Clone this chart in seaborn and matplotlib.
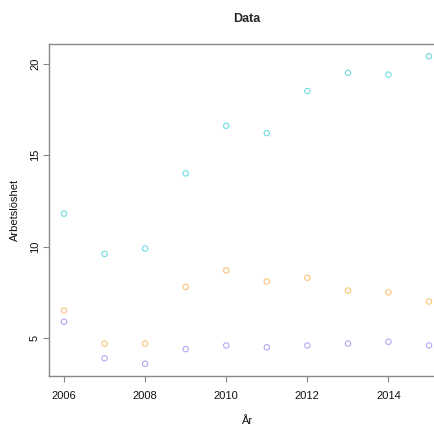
import matplotlib
matplotlib.use("Agg")
import matplotlib.pyplot as plt
import pandas as pd
import seaborn as sns

years = list(range(2006, 2016))
serie_cyan = [11.8, 9.6, 9.9, 14.0, 16.6, 16.2, 18.5, 19.5, 19.4, 20.4]
serie_orange = [6.5, 4.7, 4.7, 7.8, 8.7, 8.1, 8.3, 7.6, 7.5, 7.0]
serie_purple = [5.9, 3.9, 3.6, 4.4, 4.6, 4.5, 4.6, 4.7, 4.8, 4.6]
series_names = ["A", "B", "C"]
colors = ["#72dbe3", "#f9c476", "#b6a6f2"]
x_ticks = [2006, 2008, 2010, 2012, 2014]
y_ticks = [5, 10, 15, 20]

df = pd.DataFrame({
    "År": years * 3,
    "Arbetslöshet": serie_cyan + serie_orange + serie_purple,
    "serie": [series_names[0]] * 10 + [series_names[1]] * 10 + [series_names[2]] * 10,
})

sns.set_style("white")
plt.rcParams["font.family"] = ["Liberation Sans", "DejaVu Sans"]

W, H = 435, 429
fig = plt.figure(figsize=(W / 100, H / 100), dpi=100)
left, right, top, bottom = 49.4, 443.6, 44, 376
ax = fig.add_axes([left / W, (H - bottom) / H, (right - left) / W, (bottom - top) / H])

for name, col in zip(series_names, colors):
    sub = df[df["serie"] == name]
    sns.scatterplot(data=sub, x="År", y="Arbetslöshet", ax=ax, marker="o",
                    s=15, facecolors="none", edgecolors=col, linewidth=0.8,
                    legend=False)

ax.set_xlim(2005.64, 2015.36)
ax.set_ylim(2.93, 21.07)
ax.set_xticks(x_ticks)
ax.set_xticklabels([str(t) for t in x_ticks], fontsize=8)
ax.set_yticks(y_ticks)
ax.set_yticklabels([str(t) for t in y_ticks], fontsize=8, rotation=90, va="center")
ax.tick_params(axis="both", bottom=True, left=True, direction="out", length=4.3,
               width=0.8, color="#888888", labelcolor="#111111")
ax.tick_params(axis="x", pad=6.5)
ax.tick_params(axis="y", pad=2.5)
for s in ["left", "bottom", "top"]:
    ax.spines[s].set_color("#888888")
    ax.spines[s].set_linewidth(1.0)
ax.spines["right"].set_visible(False)

ax.set_xlabel("År", fontsize=8, color="#111111", labelpad=11)
ax.set_ylabel("Arbetslöshet", fontsize=8, color="#111111", labelpad=7)
ax.set_title("Data", fontsize=9, fontweight="bold", pad=16)
ax.grid(False)

fig.savefig("out.png", dpi=100)
